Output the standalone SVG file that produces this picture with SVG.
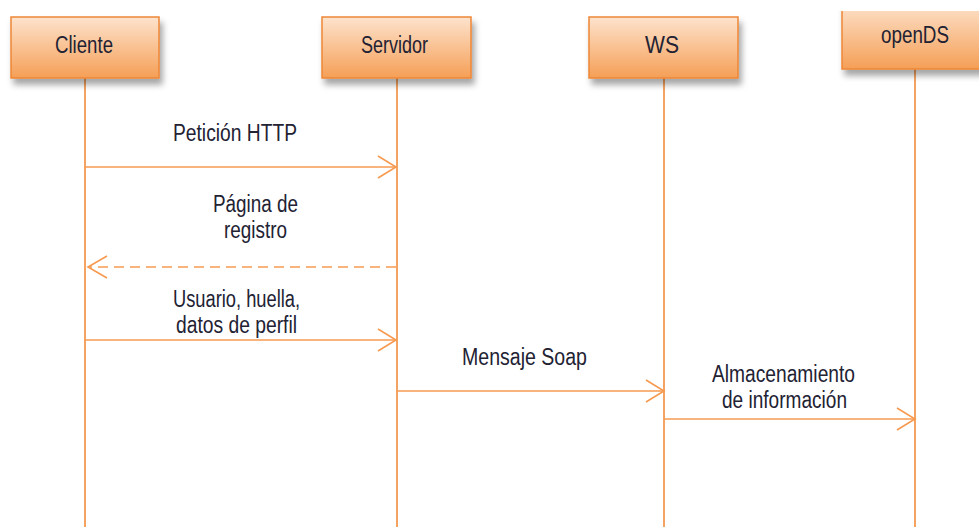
<svg xmlns="http://www.w3.org/2000/svg" width="979" height="527" viewBox="0 0 979 527">
<style>
.box{fill:url(#g);stroke:#ee8636;stroke-width:1.5;filter:url(#sh)}
.life{stroke:#f0842e;stroke-width:1.5;fill:none}
.msg{stroke:#f79a50;stroke-width:1.6;fill:none}
.head{stroke:#f79a50;stroke-width:1.6;fill:none}
.dash{stroke-dasharray:10 6}
text{font-family:"Liberation Sans",Arial,sans-serif;font-size:23px;fill:#222233}
</style>
<defs>
<linearGradient id="g" x1="0" y1="0" x2="0" y2="1">
<stop offset="0" stop-color="#fde3cd"/>
<stop offset="1" stop-color="#f59f56"/>
</linearGradient>
<filter id="sh" x="-20%" y="-20%" width="140%" height="160%">
<feDropShadow dx="3" dy="6" stdDeviation="3" flood-color="#000" flood-opacity="0.35"/>
</filter>
<clipPath id="topclip"><rect x="0" y="11" width="979" height="516"/></clipPath>
</defs>
<g id="lifelines">
<line class="life" x1="85" y1="78" x2="85" y2="527"/>
<line class="life" x1="397" y1="78" x2="397" y2="527"/>
<line class="life" x1="664" y1="78" x2="664" y2="527"/>
<line class="life" x1="915" y1="69" x2="915" y2="527"/>
</g>
<g id="cliente">
<rect class="box" x="11" y="17" width="148" height="61"/>
<text x="55" y="53" textLength="58" lengthAdjust="spacingAndGlyphs">Cliente</text>
</g>
<g id="servidor">
<rect class="box" x="322" y="17" width="149" height="61"/>
<text x="361" y="53" textLength="67" lengthAdjust="spacingAndGlyphs">Servidor</text>
</g>
<g id="ws">
<rect class="box" x="589" y="17" width="149" height="61"/>
<text x="645" y="53" textLength="34" lengthAdjust="spacingAndGlyphs">WS</text>
</g>
<g id="opends">
<g clip-path="url(#topclip)">
<rect class="box" x="842" y="2" width="150" height="67"/>
</g>
<text x="881" y="43" textLength="68" lengthAdjust="spacingAndGlyphs">openDS</text>
</g>
<g id="connectors">
<line class="msg" x1="85" y1="167" x2="396" y2="167"/>
<polyline class="head" points="378,156 396,167 378,178"/>
<line class="msg dash" x1="396" y1="267" x2="89" y2="267"/>
<polyline class="head" points="107,256 88,267 107,278"/>
<line class="msg" x1="85" y1="340" x2="396" y2="340"/>
<polyline class="head" points="378,329 396,340 378,351"/>
<line class="msg" x1="397" y1="391" x2="663" y2="391"/>
<polyline class="head" points="646,380 664,391 646,402"/>
<line class="msg" x1="664" y1="419" x2="914" y2="419"/>
<polyline class="head" points="897,408 915,419 897,430"/>
</g>
<g id="labels">
<text x="173" y="141" textLength="124" lengthAdjust="spacingAndGlyphs">Petición HTTP</text>
<text x="213" y="212" textLength="85" lengthAdjust="spacingAndGlyphs">Página de</text>
<text x="224" y="238" textLength="63" lengthAdjust="spacingAndGlyphs">registro</text>
<text x="173" y="307" textLength="127" lengthAdjust="spacingAndGlyphs">Usuario, huella,</text>
<text x="176" y="333" textLength="121" lengthAdjust="spacingAndGlyphs">datos de perfil</text>
<text x="462" y="365" textLength="125" lengthAdjust="spacingAndGlyphs">Mensaje Soap</text>
<text x="712" y="382" textLength="143" lengthAdjust="spacingAndGlyphs">Almacenamiento</text>
<text x="722" y="408" textLength="125" lengthAdjust="spacingAndGlyphs">de información</text>
</g>
</svg>
